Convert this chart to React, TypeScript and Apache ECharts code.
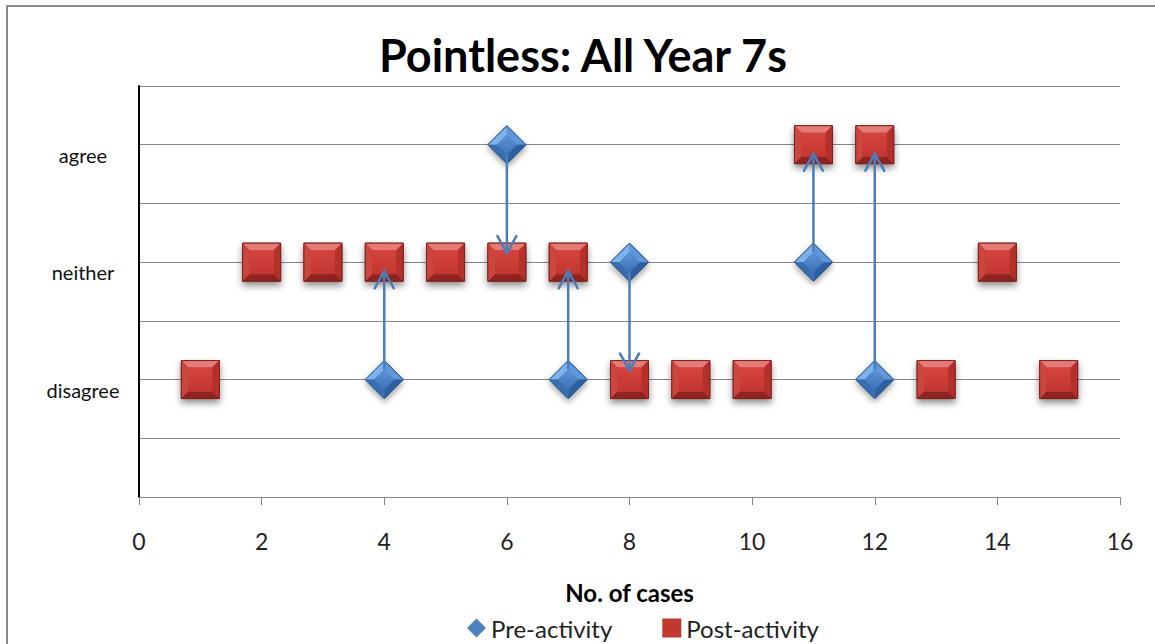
import React, { useEffect, useRef } from "react";
import * as echarts from "echarts";

// ---- data ----
const preX = [4, 6, 7, 8, 11, 12];
const preY = [2, 6, 2, 4, 4, 2];
const postX = [1, 2, 3, 4, 5, 6, 7, 8, 9, 10, 11, 12, 13, 14, 15];
const postY = [2, 4, 4, 4, 4, 4, 4, 2, 2, 2, 6, 6, 2, 4, 2];
const yLevels = [2, 4, 6];
const yLabels = ["disagree", "neither", "agree"];
const seriesNames = ["Pre-activity", "Post-activity"];
const titleText = "Pointless: All Year 7s";
const xAxisTitle = "No. of cases";

const FONT = "Lato, 'Noto Sans', sans-serif";
const BLUE = "#4f81bd";
const RED = "#c0392f";

function renderSquare(_params: any, api: any) {
  const [cx, cy] = api.coord([api.value(0), api.value(1)]);
  const h = 19;
  const b = 7;
  const L = cx - h, R = cx + h, T = cy - h, B = cy + h;
  return {
    type: "group",
    children: [
      {
        type: "rect",
        shape: { x: L, y: T, width: 2 * h, height: 2 * h },
        style: {
          fill: "#c0342f",
          stroke: "#7e2320",
          lineWidth: 1,
          shadowBlur: 7,
          shadowOffsetY: 4,
          shadowColor: "rgba(0,0,0,0.45)",
        },
      },
      { type: "polygon", shape: { points: [[L, T], [R, T], [R - b, T + b], [L + b, T + b]] }, style: { fill: "#e57b76" } },
      { type: "polygon", shape: { points: [[L, T], [L + b, T + b], [L + b, B - b], [L, B]] }, style: { fill: "#cc4640" } },
      { type: "polygon", shape: { points: [[R, T], [R, B], [R - b, B - b], [R - b, T + b]] }, style: { fill: "#b3302b" } },
      { type: "polygon", shape: { points: [[L, B], [R, B], [R - b, B - b], [L + b, B - b]] }, style: { fill: "#8e241f" } },
      {
        type: "rect",
        shape: { x: L + b, y: T + b, width: 2 * (h - b), height: 2 * (h - b) },
        style: {
          fill: new echarts.graphic.LinearGradient(0, 0, 0, 1, [
            { offset: 0, color: "#d5443e" },
            { offset: 1, color: "#c23631" },
          ]),
        },
      },
      {
        type: "rect",
        shape: { x: L, y: T, width: 2 * h, height: 2 * h },
        style: { fill: "none", stroke: "#7e2320", lineWidth: 1 },
      },
    ],
  };
}

function renderDiamond(_params: any, api: any) {
  const [cx, cy] = api.coord([api.value(0), api.value(1)]);
  const h = 19;
  const i = 10;
  const T = [cx, cy - h], Rr = [cx + h, cy], B = [cx, cy + h], Ll = [cx - h, cy];
  const t = [cx, cy - i], r = [cx + i, cy], b = [cx, cy + i], l = [cx - i, cy];
  return {
    type: "group",
    children: [
      {
        type: "polygon",
        shape: { points: [T, Rr, B, Ll] },
        style: {
          fill: "#4f86c8",
          stroke: "#2c5a94",
          lineWidth: 1,
          shadowBlur: 6,
          shadowOffsetY: 3,
          shadowColor: "rgba(0,0,0,0.4)",
        },
      },
      { type: "polygon", shape: { points: [Ll, T, t, l] }, style: { fill: "#7eb1ea" } },
      { type: "polygon", shape: { points: [T, Rr, r, t] }, style: { fill: "#5f97d8" } },
      { type: "polygon", shape: { points: [Rr, B, b, r] }, style: { fill: "#2e5f9f" } },
      { type: "polygon", shape: { points: [B, Ll, l, b] }, style: { fill: "#3a6eb0" } },
      {
        type: "polygon",
        shape: { points: [t, r, b, l] },
        style: {
          fill: new echarts.graphic.LinearGradient(0, 0, 0, 1, [
            { offset: 0, color: "#5b94d6" },
            { offset: 1, color: "#3d74b8" },
          ]),
        },
      },
      { type: "polygon", shape: { points: [T, Rr, B, Ll] }, style: { fill: "none", stroke: "#2c5a94", lineWidth: 1 } },
    ],
  };
}

function renderArrow(_params: any, api: any) {
  const p0 = api.coord([api.value(0), api.value(1)]);
  const p1 = api.coord([api.value(0), api.value(2)]);
  const d = p1[1] > p0[1] ? 1 : -1;
  const x = p0[0];
  const start = p0[1] + d * 10;
  const tip = p1[1] - d * 9;
  const style = { stroke: "#4a7ebb", lineWidth: 2.5, fill: "none" };
  return {
    type: "group",
    children: [
      { type: "line", shape: { x1: x, y1: start, x2: x, y2: tip }, style },
      {
        type: "polyline",
        shape: { points: [[x - 10, tip - d * 18], [x, tip], [x + 10, tip - d * 18]] },
        style,
      },
    ],
  };
}

export default function App() {
  const ref = useRef<HTMLDivElement>(null);
  useEffect(() => {
    if (!ref.current) return;
    const chart = echarts.init(ref.current, null, { renderer: "svg" });
    const preData = preX.map((x, k) => [x, preY[k]]);
    const postData = postX.map((x, k) => [x, postY[k]]);
    const arrowData = preX.map((x, k) => [x, preY[k], postY[postX.indexOf(x)]]);
    chart.setOption({
      animation: false,
      backgroundColor: "#ffffff",
      title: {
        text: titleText,
        left: 578,
        textAlign: "center",
        top: 27,
        textStyle: { fontFamily: FONT, fontSize: 45, fontWeight: "bold", color: "#000" },
      },
      graphic: [
        {
          type: "rect",
          shape: { x: 7, y: 6, width: 1200, height: 700 },
          style: { fill: "none", stroke: "#8a8a8a", lineWidth: 2 },
          silent: true,
        },
      ],
      legend: {
        left: 462,
        top: 611,
        itemGap: 50,
        itemWidth: 19,
        itemHeight: 19,
        textStyle: { fontFamily: FONT, fontSize: 24, color: "#222" },
        data: [
          { name: seriesNames[0], icon: "diamond", itemStyle: { color: BLUE } },
          { name: seriesNames[1], icon: "rect", itemStyle: { color: RED } },
        ],
      },
      grid: { left: 139, top: 86, right: 35, bottom: 147 },
      xAxis: {
        type: "value",
        min: 0,
        max: 16,
        interval: 2,
        name: xAxisTitle,
        nameLocation: "middle",
        nameGap: 83,
        nameTextStyle: { fontFamily: FONT, fontSize: 24, fontWeight: "bold", color: "#000" },
        axisLine: { lineStyle: { color: "#868686", width: 1 } },
        axisTick: { show: true, length: 8, lineStyle: { color: "#868686" } },
        axisLabel: { fontFamily: FONT, fontSize: 23, color: "#222", margin: 32 },
        splitLine: { show: false },
      },
      yAxis: {
        type: "value",
        min: 0,
        max: 7,
        interval: 1,
        axisLine: { show: true, lineStyle: { color: "#000", width: 2 } },
        axisTick: { show: false },
        axisLabel: {
          fontFamily: FONT,
          fontSize: 20,
          color: "#111",
          align: "center",
          verticalAlign: "top",
          margin: 56,
          formatter: (v: number) => {
            const k = yLevels.indexOf(v);
            return k >= 0 ? yLabels[k] : "";
          },
        },
        splitLine: { show: true, lineStyle: { color: "#868686", width: 1 } },
      },
      series: [
        {
          name: seriesNames[1],
          type: "custom",
          renderItem: renderSquare,
          itemStyle: { color: RED },
          data: postData,
          z: 3,
        },
        {
          name: seriesNames[0],
          type: "custom",
          renderItem: renderDiamond,
          itemStyle: { color: BLUE },
          data: preData,
          z: 4,
        },
        {
          name: "arrows",
          type: "custom",
          renderItem: renderArrow,
          data: arrowData,
          silent: true,
          z: 5,
        },
      ],
    });
    return () => chart.dispose();
  }, []);
  return (
    <div
      ref={ref}
      style={{ position: "fixed", left: 0, top: 0, width: 1155, height: 644, background: "#fff" }}
    />
  );
}
